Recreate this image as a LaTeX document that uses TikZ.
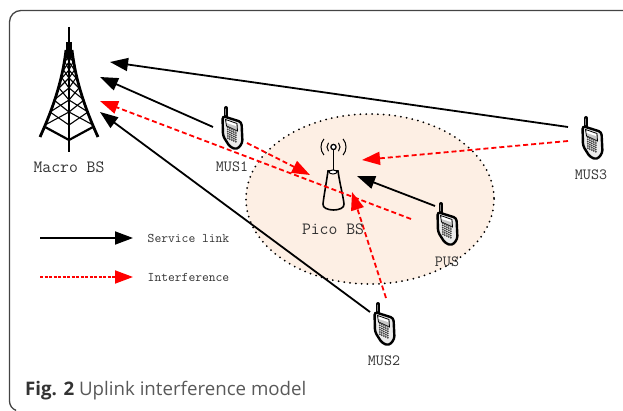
\documentclass[tikz,border=0pt]{standalone}
\usepackage{fontspec}
\setsansfont{Open Sans}
\usepackage{tikz}
\usetikzlibrary{arrows.meta}

\definecolor{framegray}{HTML}{444444}
\definecolor{picofill}{HTML}{FDEFE4}
\definecolor{labelgray}{HTML}{333333}

\tikzset{
    service/.style={line width=1.8pt,black,-{Triangle[length=18pt,width=13pt]}},
    interfer/.style={line width=1.8pt,red,dash pattern=on 5pt off 3pt,-{Triangle[length=18pt,width=13pt]}},
    legendint/.style={interfer,dash pattern=on 3pt off 1.5pt},
    devlabel/.style={text=labelgray,font=\ttfamily\fontsize{17.2}{19}\selectfont,inner sep=0pt},
    phonelabel/.style={devlabel,font=\ttfamily\fontsize{15.6}{17}\selectfont},
    legendlabel/.style={devlabel,font=\ttfamily\fontsize{13.2}{15}\selectfont},
    phonebox/.style={minimum width=22pt,minimum height=44pt,inner sep=0pt},
    phone/.pic={
        \draw[line width=4pt,line cap=round] (-6,-20) -- (-6,-12);
        \draw[line width=1pt,line cap=round,gray] (-6.3,-19) -- (-6.3,-13);
        \draw[line width=2.4pt,fill=black!8,rounded corners=3pt] (-9.5,-12) -- (9.5,-6) -- (10.5,15) -- (5,21.5) -- (-2,19) -- (-9,8) -- cycle;
        \draw[line width=.8pt,fill=black!22] (-6.5,-8.5) -- (5,-4.5) -- (5.5,3) -- (-5.5,-2) -- cycle;
        \fill[white] (-5.5,-7.5) -- (4,-4) -- (4,-2) -- (-5.5,-5) -- cycle;
        \foreach \kx in {-4,-2,0,2,4}
            \foreach \ky in {1,3.2,5.4,7.6,9.8,12}
                \fill[black!75] (\kx-.2,\ky+.45*\kx) circle (1pt);
    }
}

\begin{document}
\begin{tikzpicture}[x=1pt,y=-1pt]
    \useasboundingbox (0,0) rectangle (623,411);
    \draw[framegray,line width=1.3pt] (623,10.5) -- (21,10.5) arc (-90:-180:11.5) -- (9.5,401) arc (180:110:10);

    \draw[picofill,fill=picofill] (370,199) ellipse (124 and 85);
    \draw[line width=2pt,line cap=round,dash pattern=on 0pt off 5.8pt] (370,199) ellipse (124 and 85);

    \draw[line width=1.4pt] (69,27) -- (69,152);
    \draw[line width=2.8pt] (69,40) -- (69,152);
    \draw[line width=6pt] (69,42) -- (69,58);
    \draw[line width=2.8pt] (66,50) .. controls (62,85) and (50,115) .. (40,137);
    \draw[line width=2.8pt] (72,50) .. controls (76,85) and (88,115) .. (98,137);
    \draw[line width=2.2pt] (45,127) -- (69,140) -- (93,127);
    \foreach \ya/\wa/\yb/\wb in {55/3/62/4,62/4/70/5.5,70/5.5/78/7,78/7/88/10,88/10/100/15,100/15/112/19,112/19/125/24} {
        \draw[line width=1.1pt] (69-\wa,\ya) -- (69,\yb) -- (69+\wa,\ya);
        \draw[line width=1.1pt] (69-\wb,\yb) -- (69,\ya) -- (69+\wb,\yb);
    }

    \draw[line width=1.6pt,fill=picofill] (328,171) -- (338,171) .. controls (340,185) and (343,195) .. (344,204) .. controls (345,212) and (322,212) .. (323,204) .. controls (324,195) and (326,185) .. (328,171) -- cycle;
    \draw[line width=1pt,fill=white] (333,172) ellipse (4 and 2);
    \draw[line width=1.8pt] (333.5,148) -- (333.5,170);
    \draw[line width=1.3pt,fill=white] (333.5,147) circle (2.6);
    \foreach \rad in {6.5,12.5} {
        \draw[line width=1pt] (333.5,147) ++(140:\rad) arc (140:220:\rad);
        \draw[line width=1pt] (333.5,147) ++(40:\rad) arc (40:-40:\rad);
    }

    \node[phonebox] (mus1) at (232,128) {};
    \node[phonebox] (mus2) at (384,324) {};
    \node[phonebox] (mus3) at (592,138) {};
    \node[phonebox] (pus) at (447,224) {};
    \pic at (mus1) {phone};
    \pic at (mus2) {phone};
    \pic at (mus3) {phone};
    \pic at (pus) {phone};

    \coordinate (macroa) at (110,62);
    \coordinate (macrob) at (100,77);
    \coordinate (macroc) at (100,101);
    \coordinate (macrod) at (100,112);
    \coordinate (picoa) at (357,176);
    \coordinate (picob) at (362,160);
    \coordinate (picoc) at (310,175);
    \coordinate (picod) at (352,192);
    \coordinate (mus1a) at (213,127);
    \coordinate (mus1b) at (247,143);
    \coordinate (mus2a) at (370,312);
    \coordinate (mus2b) at (386,298);
    \coordinate (mus3a) at (568,127);
    \coordinate (mus3b) at (568,141);
    \coordinate (pusa) at (435,206);
    \coordinate (pusb) at (411,219);

    \draw[service] (mus3a) -- (macroa);
    \draw[service] (mus1a) -- (macrob);
    \draw[service] (mus2a) -- (macrod);
    \draw[service] (pusa) -- (picoa);
    \draw[interfer] (pusb) -- (macroc);
    \draw[interfer] (mus1b) -- (picoc);
    \draw[interfer] (mus3b) -- (picob);
    \draw[interfer] (mus2b) -- (picod);

    \node[devlabel] (macrolabel) at (69,167) {Macro BS};
    \node[devlabel] (picolabel) at (333,229) {Pico BS};
    \node[phonelabel] (mus1label) at (232,167) {MUS1};
    \node[phonelabel] (mus2label) at (384,361) {MUS2};
    \node[phonelabel] (mus3label) at (591,175) {MUS3};
    \node[phonelabel] (puslabel) at (447,262) {PUS};

    \coordinate (servicea) at (40,238);
    \coordinate (serviceb) at (133,238);
    \coordinate (intera) at (40,277);
    \coordinate (interb) at (133,277);
    \draw[service] (servicea) -- (serviceb);
    \draw[legendint] (intera) -- (interb);
    \node[legendlabel] (servicelabel) at (188.5,238) {Service link};
    \node[legendlabel] (interlabel) at (188.5,277) {Interference};

    \node[anchor=west,inner sep=0pt,font=\sffamily\fontsize{18.7}{21}\selectfont,text=black!65] (caption) at (25,391) {\textcolor{black!80}{\textbf{Fig. 2}} Uplink interference model};
\end{tikzpicture}
\end{document}
